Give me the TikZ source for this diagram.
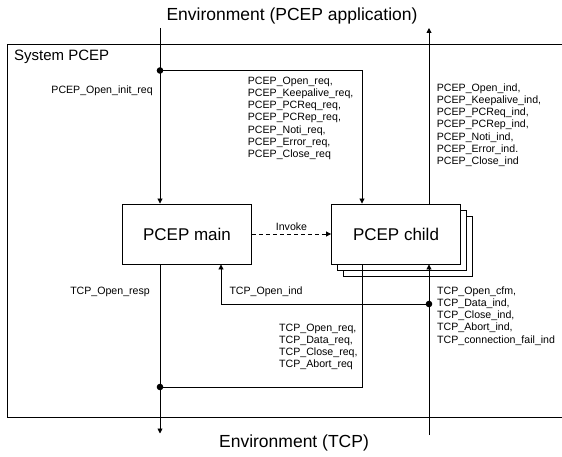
\documentclass[tikz,border=0pt]{standalone}
\usepackage{fontspec}
\setmainfont{Liberation Sans}
\usetikzlibrary{arrows.meta}
\begin{document}
\begin{tikzpicture}[x=1pt,y=-1pt,
  wire/.style={line width=0.9pt},
  tip/.style={-{Triangle[length=5pt,width=5pt]}},
  blk/.style={draw,line width=0.9pt,fill=white,minimum width=129pt,minimum height=60pt,inner sep=0pt,font=\fontsize{17}{20}\selectfont},
  sig/.style={font=\fontsize{10.6}{12.2}\selectfont,inner sep=0pt,align=left},
  big/.style={font=\fontsize{17.5}{20}\selectfont,inner sep=0pt},
  jdot/.style={circle,fill=black,inner sep=0pt,minimum size=6.6pt}]
\useasboundingbox (0,0) rectangle (562,457);

% system frame (open to the right)
\draw[wire] (562,44.5) -- (7,44.5) -- (7,417) -- (562,417);
\node[inner sep=0pt,anchor=west,font=\fontsize{15}{17}\selectfont] (sys) at (14,57) {System PCEP};

% environments
\node[big] (envapp) at (292,16) {Environment (PCEP application)};
\node[big] (envtcp) at (294,443) {Environment (TCP)};

% process blocks
\node[blk] (child3) at (408,246) {};
\node[blk] (child2) at (402,240) {};
\node[blk] (child) at (396,234) {PCEP child};
\node[blk] (main) at (187,234) {PCEP main};

% routing points
\coordinate (inA) at (160,28);
\coordinate (outA) at (429,28);
\coordinate (outT) at (160,433.5);
\coordinate (inT) at (429,435);
\coordinate (j1) at (160,70.5);
\coordinate (k1) at (362,70.5);
\coordinate (j2) at (160,387);
\coordinate (k2) at (362,387);
\coordinate (j3) at (429,304);
\coordinate (k3) at (221,304);

% signal routes
\draw[wire,tip] (inA) -- (inA |- main.north);
\draw[wire,tip] (j1) -- (k1) -- (k1 |- child.north);
\draw[wire,tip] (outA |- child.north) -- (outA);
\draw[wire,tip,dash pattern=on 4pt off 3pt] (main.east) -- (child.west)
  node[midway,above=3pt,sig] (invoke) {Invoke};
\draw[wire,tip] (main.south -| outT) -- (outT);
\draw[wire] (child.south -| k2) -- (k2) -- (j2);
\draw[wire,tip] (inT) -- (inT |- child.south);
\draw[wire,tip] (j3) -- (k3) -- (k3 |- main.south);

\node[jdot] (d1) at (j1) {};
\node[jdot] (d2) at (j2) {};
\node[jdot] (d3) at (j3) {};

% signal labels
\node[sig,anchor=east] (openinit) at (153,90.7) {PCEP\_Open\_init\_req};
\node[sig,anchor=west] (reqs) at (247.7,118.3) {PCEP\_Open\_req,\\PCEP\_Keepalive\_req,\\PCEP\_PCReq\_req,\\PCEP\_PCRep\_req,\\PCEP\_Noti\_req,\\PCEP\_Error\_req,\\PCEP\_Close\_req};
\node[sig,anchor=west] (inds) at (436.7,125.1) {PCEP\_Open\_ind,\\PCEP\_Keepalive\_ind,\\PCEP\_PCReq\_ind,\\PCEP\_PCRep\_ind,\\PCEP\_Noti\_ind,\\PCEP\_Error\_ind.\\PCEP\_Close\_ind};
\node[sig,anchor=east] (openresp) at (150,291.7) {TCP\_Open\_resp};
\node[sig,anchor=west] (openind) at (229.3,291.7) {TCP\_Open\_ind};
\node[sig,anchor=west] (tcpreqs) at (279,347) {TCP\_Open\_req,\\TCP\_Data\_req,\\TCP\_Close\_req,\\TCP\_Abort\_req};
\node[sig,anchor=west] (tcpinds) at (437,316) {TCP\_Open\_cfm,\\TCP\_Data\_ind,\\TCP\_Close\_ind,\\TCP\_Abort\_ind,\\TCP\_connection\_fail\_ind};
\end{tikzpicture}
\end{document}
